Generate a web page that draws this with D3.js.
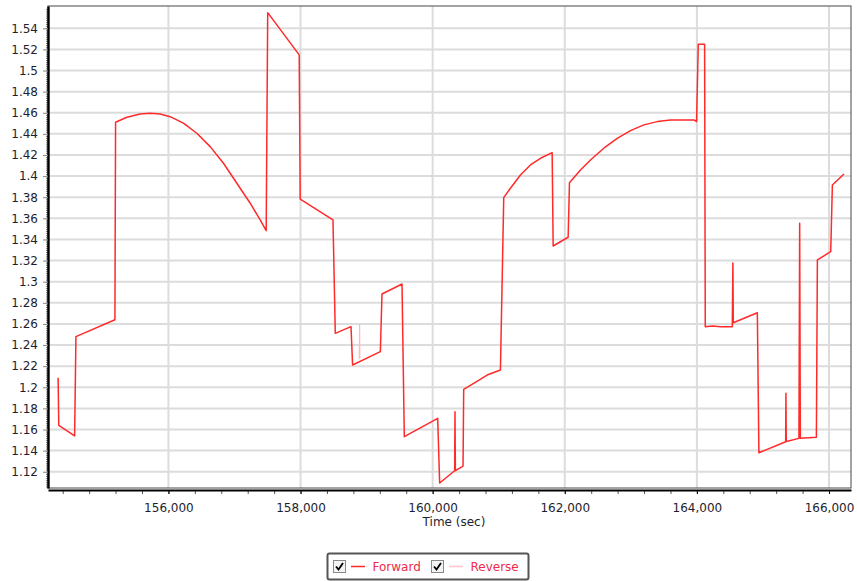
<!DOCTYPE html>
<meta charset="utf-8" />
<style>
  body { margin: 0; background: #fff; }
  svg text { font-family: "DejaVu Sans", Verdana, sans-serif; }
  .axis text { font-size: 12px; fill: #1e1e2e; }
  .grid line { stroke: #dcdcdc; stroke-width: 2px; }
</style>
<body>
<script src="https://d3js.org/d3.v7.min.js"></script>
<script>
  // Forward series: time (sec) and value
  var fwdTime = [154330, 154340, 154580, 154600, 155190, 155200, 155370, 155571, 155723, 155874,
    156026, 156227, 156430, 156632, 156833, 157036, 157238, 157389, 157480, 157503,
    157980, 157995, 158491, 158526, 158764, 158788, 159208, 159233, 159536, 159571,
    160076, 160106, 160333, 160338, 160344, 160460, 160470, 160621, 160824, 161026,
    161076, 161177, 161329, 161480, 161632, 161809, 161824, 162051, 162071, 162238,
    162389, 162591, 162794, 162995, 163197, 163400, 163601, 163955, 163995, 164021,
    164117, 164127, 164238, 164359, 164536, 164545, 164551, 164915, 164939, 165344,
    165348, 165353, 165545, 165556, 165566, 165809, 165824, 166026, 166051, 166227];
  var fwdValue = [1.209, 1.164, 1.154, 1.248, 1.264, 1.451, 1.4557, 1.4589, 1.4595, 1.4589,
    1.4563, 1.4501, 1.4406, 1.4279, 1.4122, 1.3932, 1.3743, 1.3585, 1.3483, 1.5548,
    1.5148, 1.3781, 1.3585, 1.2511, 1.2574, 1.2211, 1.2337, 1.2883, 1.2978, 1.1532,
    1.1706, 1.1093, 1.1209, 1.1768, 1.121, 1.1254, 1.1981, 1.2037, 1.2116, 1.2163,
    1.3796, 1.3885, 1.4011, 1.4106, 1.4169, 1.4222, 1.3338, 1.3421, 1.3938, 1.4058,
    1.4153, 1.4264, 1.4358, 1.4431, 1.4485, 1.4516, 1.4532, 1.4532, 1.4516, 1.5249,
    1.5249, 1.2574, 1.258, 1.2574, 1.2574, 1.3177, 1.2611, 1.2706, 1.138, 1.1484,
    1.1943, 1.1486, 1.1516, 1.3553, 1.1517, 1.1526, 1.3206, 1.3284, 1.3916, 1.402];

  // Reverse series (only a short piece shows)
  var revTime = [158890, 158894, 158898];
  var revValue = [1.227, 1.260, 1.227];

  var xMajor = [156000, 158000, 160000, 162000, 164000, 166000];
  var yMajor = [1.12, 1.14, 1.16, 1.18, 1.2, 1.22, 1.24, 1.26, 1.28, 1.3, 1.32, 1.34,
    1.36, 1.38, 1.4, 1.42, 1.44, 1.46, 1.48, 1.5, 1.52, 1.54];
  var seriesNames = ['Forward', 'Reverse'];

  var W = 857, H = 581;
  var plot = { left: 48, right: 851, top: 6, bottom: 488 };

  var x = d3.scaleLinear().domain([154177, 166333]).range([plot.left, plot.right]);
  var y = d3.scaleLinear().domain([1.1046, 1.5611]).range([plot.bottom, plot.top]);

  var svg = d3.select('body').append('svg')
    .attr('width', W).attr('height', H);

  // grid
  var grid = svg.append('g').attr('class', 'grid');
  grid.selectAll('.h').data(yMajor).enter().append('line')
    .attr('x1', plot.left).attr('x2', plot.right)
    .attr('y1', function (d) { return y(d); }).attr('y2', function (d) { return y(d); });
  grid.selectAll('.v').data(xMajor).enter().append('line')
    .attr('y1', plot.top).attr('y2', plot.bottom)
    .attr('x1', function (d) { return x(d); }).attr('x2', function (d) { return x(d); });

  // plot border
  svg.append('rect')
    .attr('x', plot.left).attr('y', plot.top)
    .attr('width', plot.right - plot.left).attr('height', plot.bottom - plot.top)
    .attr('fill', 'none').attr('stroke', '#666').attr('stroke-width', 1.2);

  // lines
  var line = d3.line()
    .x(function (d) { return x(d[0]); })
    .y(function (d) { return y(d[1]); });

  svg.append('path')
    .datum(d3.zip(revTime, revValue))
    .attr('fill', 'none').attr('stroke', '#ffb8c0').attr('stroke-width', 1.2)
    .attr('d', line);

  svg.append('path')
    .datum(d3.zip(fwdTime, fwdValue))
    .attr('fill', 'none').attr('stroke', '#ff2a2a').attr('stroke-width', 1.5)
    .attr('stroke-linejoin', 'round')
    .attr('d', line);

  // minor ticks
  var xMinor = d3.range(154400, 166400, 400);
  var yMinor = d3.range(1106, 1560, 2).map(function (d) { return d / 1000; });

  svg.append('g')
    .attr('transform', 'translate(0,490)')
    .call(d3.axisBottom(x).tickValues(xMinor).tickSize(4).tickFormat(''))
    .call(function (g) { g.select('.domain').remove(); })
    .selectAll('line').attr('stroke', '#555');

  svg.append('g')
    .attr('transform', 'translate(48,0)')
    .call(d3.axisLeft(y).tickValues(yMinor).tickSize(2).tickFormat(''))
    .call(function (g) { g.select('.domain').remove(); })
    .selectAll('line').attr('stroke', '#777');

  // main axes
  var xAxis = svg.append('g').attr('class', 'axis')
    .attr('transform', 'translate(0,490)')
    .call(d3.axisBottom(x).tickValues(xMajor).tickSize(4).tickPadding(9)
      .tickSizeOuter(0).tickFormat(d3.format(',')));
  xAxis.select('.domain').attr('stroke', '#000').attr('stroke-width', 2.2);

  var yAxis = svg.append('g').attr('class', 'axis')
    .attr('transform', 'translate(48,0)')
    .call(d3.axisLeft(y).tickValues(yMajor).tickSize(5).tickPadding(5)
      .tickSizeOuter(0).tickFormat(d3.format('')));
  yAxis.select('.domain').attr('stroke', '#000').attr('stroke-width', 2.4);
  yAxis.selectAll('.tick line').attr('stroke', '#888');

  svg.append('text')
    .attr('x', 454).attr('y', 526)
    .attr('text-anchor', 'middle')
    .style('font-size', '12px').style('fill', '#1e1e2e')
    .text('Time (sec)');

  // legend
  var legend = svg.append('g');
  legend.append('rect')
    .attr('x', 327.5).attr('y', 553.5).attr('width', 201).attr('height', 26)
    .attr('rx', 2).attr('fill', '#fff').attr('stroke', '#555').attr('stroke-width', 2);

  var legendX = [333, 431];
  var legendColor = ['#ff2a2a', '#ffc4ca'];
  seriesNames.forEach(function (name, i) {
    var lx = legendX[i];
    var item = legend.append('g').attr('transform', 'translate(' + lx + ',560)');
    item.append('rect')
      .attr('x', 0.5).attr('y', 0.5).attr('width', 12).attr('height', 12)
      .attr('fill', '#f4f4f4').attr('stroke', '#8a8a8a');
    item.append('path')
      .attr('d', 'M3,6.5 L5.5,9.5 L10,3')
      .attr('fill', 'none').attr('stroke', '#000').attr('stroke-width', 1.8);
    item.append('line')
      .attr('x1', 18).attr('x2', 32).attr('y1', 6.5).attr('y2', 6.5)
      .attr('stroke', legendColor[i]).attr('stroke-width', 1.5);
    item.append('text')
      .attr('x', 39.5).attr('y', 10.5)
      .style('font-size', '12px').style('fill', '#ee2a4b')
      .text(name);
  });
</script>
</body>
